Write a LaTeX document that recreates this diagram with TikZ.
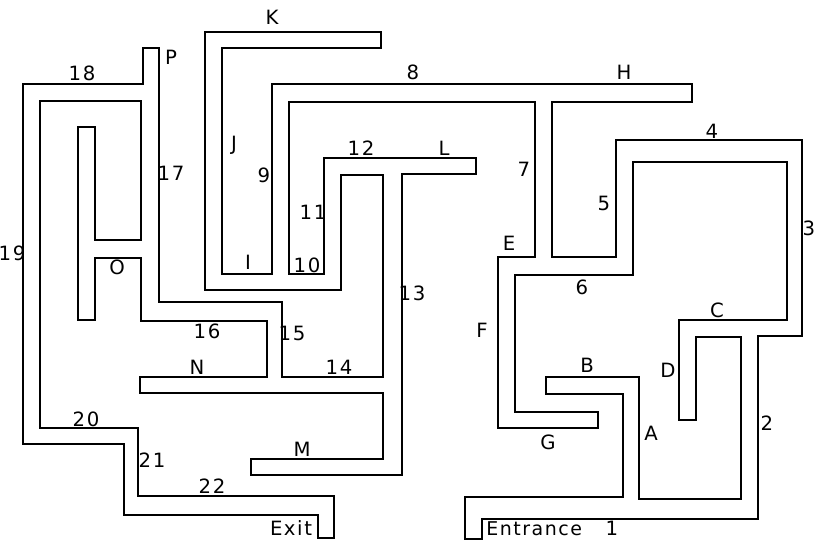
\documentclass[tikz,border=0pt]{standalone}
\usepackage{fontspec}
\setmainfont{DejaVu Sans}[LetterSpace=8]

\begin{document}
\begin{tikzpicture}[x=0.025cm, y=-0.025cm, line join=miter,
    wall/.style={line width=1.4pt},
    lbl/.style={font=\fontsize{14}{15}\selectfont, inner sep=0pt}]
  \useasboundingbox (0,0) rectangle (817,541);

  % the maze walls, one closed outline from the entrance round to the entrance
  \draw[wall] (465,539) -- (465,497) -- (623,497) -- (623,394) -- (546,394)
    -- (546,377) -- (639,377) -- (639,499) -- (741,499) -- (741,337)
    -- (696,337) -- (696,420) -- (679,420) -- (679,320) -- (787,320)
    -- (787,162) -- (633,162) -- (633,275) -- (515,275) -- (515,412)
    -- (598,412) -- (598,428) -- (498,428) -- (498,257) -- (535,257)
    -- (535,102) -- (289,102) -- (289,274) -- (324,274) -- (324,158)
    -- (476,158) -- (476,174) -- (402,174) -- (402,475) -- (251,475)
    -- (251,459) -- (383,459) -- (383,393) -- (140,393) -- (140,377)
    -- (267,377) -- (267,321) -- (141,321) -- (141,258) -- (95,258)
    -- (95,320) -- (78,320) -- (78,127) -- (95,127) -- (95,240)
    -- (141,240) -- (141,101) -- (40,101) -- (40,428) -- (138,428)
    -- (138,496) -- (334,496) -- (334,538) -- (318,538) -- (318,515)
    -- (124,515) -- (124,444) -- (23,444) -- (23,84) -- (143,84)
    -- (143,48) -- (159,48) -- (159,302) -- (282,302) -- (282,377)
    -- (383,377) -- (383,175) -- (341,175) -- (341,290) -- (205,290)
    -- (205,32) -- (381,32) -- (381,48) -- (222,48) -- (222,274)
    -- (272,274) -- (272,84) -- (692,84) -- (692,102) -- (552,102)
    -- (552,257) -- (616,257) -- (616,140) -- (802,140) -- (802,336)
    -- (758,336) -- (758,519) -- (482,519) -- (482,539) -- cycle;

  % letters
  \node[lbl] (lA) at (651,433) {A};
  \node[lbl] (lB) at (587,365) {B};
  \node[lbl] (lC) at (717,310) {C};
  \node[lbl] (lD) at (668,370) {D};
  \node[lbl] (lE) at (509,243) {E};
  \node[lbl] (lF) at (482,330) {F};
  \node[lbl] (lG) at (548,442) {G};
  \node[lbl] (lH) at (624,72) {H};
  \node[lbl] (lI) at (248,262) {I};
  \node[lbl] (lJ) at (234,145) {J};
  \node[lbl] (lK) at (272,17) {K};
  \node[lbl] (lL) at (444,148) {L};
  \node[lbl] (lM) at (302,449) {M};
  \node[lbl] (lN) at (197,367) {N};
  \node[lbl] (lO) at (117,267) {O};
  \node[lbl] (lP) at (171,57) {P};

  % numbers
  \node[lbl] (l1) at (612,528) {1};
  \node[lbl] (l2) at (767,423) {2};
  \node[lbl] (l3) at (809,228) {3};
  \node[lbl] (l4) at (712,131) {4};
  \node[lbl] (l5) at (604,203) {5};
  \node[lbl] (l6) at (582,287) {6};
  \node[lbl] (l7) at (524,169) {7};
  \node[lbl] (l8) at (413,72) {8};
  \node[lbl] (l9) at (264,175) {9};
  \node[lbl] (l10) at (307,265) {10};
  \node[lbl] (l11) at (313,212) {11};
  \node[lbl] (l12) at (361,148) {12};
  \node[lbl] (l13) at (412,293) {13};
  \node[lbl] (l14) at (339,367) {14};
  \node[lbl] (l15) at (292,333) {15};
  \node[lbl] (l16) at (207,331) {16};
  \node[lbl] (l17) at (171,173) {17};
  \node[lbl] (l18) at (82,73) {18};
  \node[lbl] (l19) at (12,253) {19};
  \node[lbl] (l20) at (86,419) {20};
  \node[lbl] (l21) at (152,460) {21};
  \node[lbl] (l22) at (212,486) {22};

  \node[lbl] (exit) at (291,528) {Exit};
  \node[lbl, anchor=west, font=\fontsize{13.5}{15}\selectfont] (entrance) at (486,529) {Entrance};
\end{tikzpicture}
\end{document}
